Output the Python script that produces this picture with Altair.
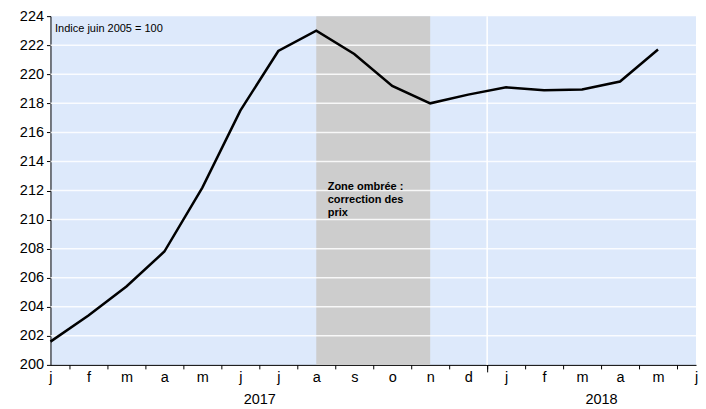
import altair as alt
import pandas as pd

# Months indexed from January 2017 (0) to June 2018 (17)
month_labels = ['j', 'f', 'm', 'a', 'm', 'j', 'j', 'a', 's', 'o', 'n', 'd',
                'j', 'f', 'm', 'a', 'm', 'j']
month_index = list(range(17))
values = [201.6, 203.4, 205.4, 207.8, 212.2, 217.5, 221.6, 223.0, 221.4,
          219.2, 218.0, 218.6, 219.1, 218.9, 218.95, 219.5, 221.7]
y_ticks = list(range(200, 225, 2))
grid_values = list(range(202, 224, 2))
shade_start, shade_end = 7, 10          # août -> novembre 2017
year_boundary = 11.5
year_label_pos = [5.5, 14.5]
year_names = ['2017', '2018']

FONT = "Liberation Sans"
W, H = 646, 349
LFS = 14.5

line_df = pd.DataFrame({"m": month_index, "v": values})
shade_df = pd.DataFrame({"x": [shade_start], "x2": [shade_end], "y": [200], "y2": [224]})
grid_df = pd.DataFrame({"g": grid_values})
vgrid_df = pd.DataFrame({"x": [year_boundary]})

xscale = alt.Scale(domain=[0, 17], nice=False, zero=False)
yscale = alt.Scale(domain=[200, 224], nice=False, zero=False)

label_list = "[" + ",".join("'%s'" % s for s in month_labels) + "]"
year_list = "[" + ",".join("'%s'" % s for s in year_names) + "]"
minor_ticks = [i + 0.5 for i in range(17)]

common = dict(orient="bottom", title=None, grid=False, labelOverlap=False,
              labelFlush=False, labelBound=False, labelColor="black",
              labelFont=FONT, labelFontSize=LFS, tickColor="black")

month_axis = alt.Axis(values=list(range(18)), ticks=False, domainColor="black",
                      labelExpr=f"{label_list}[datum.value]", labelPadding=6, **common)
year_axis = alt.Axis(values=year_label_pos, ticks=False, domain=False,
                     labelExpr=f"{year_list}[datum.value < 11.5 ? 0 : 1]",
                     labelPadding=28, **common)
tick_axis = alt.Axis(values=minor_ticks, labels=False, domain=False, tickSize=4, **common)
long_tick_axis = alt.Axis(values=[year_boundary], labels=False, domain=False,
                          tickSize=7, **common)

shade = alt.Chart(shade_df).mark_rect(color="#cdcdcd").encode(
    x=alt.X("x:Q", scale=xscale, axis=month_axis),
    x2="x2:Q",
    y=alt.Y("y:Q", scale=yscale, axis=alt.Axis(
        values=y_ticks, title=None, grid=False, tickSize=4, tickColor="black",
        domainColor="black", labelColor="black", labelFont=FONT,
        labelFontSize=LFS, labelPadding=3)),
    y2="y2:Q",
)

hgrid = alt.Chart(grid_df).mark_rule(color="white", strokeWidth=1.5, opacity=0.85).encode(
    y=alt.Y("g:Q", scale=yscale, axis=None),
)
vgrid = alt.Chart(vgrid_df).mark_rule(color="white", strokeWidth=1.5).encode(
    x=alt.X("x:Q", scale=xscale, axis=year_axis),
)

line = alt.Chart(line_df).mark_line(color="black", strokeWidth=2.5).encode(
    x=alt.X("m:Q", scale=xscale, axis=tick_axis),
    y=alt.Y("v:Q", scale=yscale, axis=None),
)

note_df = pd.DataFrame({"x": [0.12], "y": [223.1], "t": ["Indice juin 2005 = 100"]})
note = alt.Chart(note_df).mark_text(
    align="left", baseline="middle", font=FONT, fontSize=11, color="black"
).encode(x=alt.X("x:Q", scale=xscale, axis=long_tick_axis),
         y=alt.Y("y:Q", scale=yscale, axis=None), text="t:N")

zone_df = pd.DataFrame({"x": [7.3], "y": [212.25],
                        "t": [["Zone ombrée :", "correction des", "prix"]]})
zone = alt.Chart(zone_df).mark_text(
    align="left", baseline="middle", font=FONT, fontSize=11, fontWeight="bold",
    color="black", lineHeight=13
).encode(x=alt.X("x:Q", scale=xscale, axis=None),
         y=alt.Y("y:Q", scale=yscale, axis=None), text="t")

chart = alt.layer(shade, hgrid, vgrid, line, note, zone).resolve_axis(
    x="independent", y="independent"
).properties(
    width=W, height=H,
    autosize=alt.AutoSizeParams(type="none"),
    padding={"left": 42.5, "top": 8, "right": 2, "bottom": 44},
).configure_view(fill="#dde9fb", stroke=None)

chart.save("out.html", embed_options={"renderer": "svg", "actions": False})
